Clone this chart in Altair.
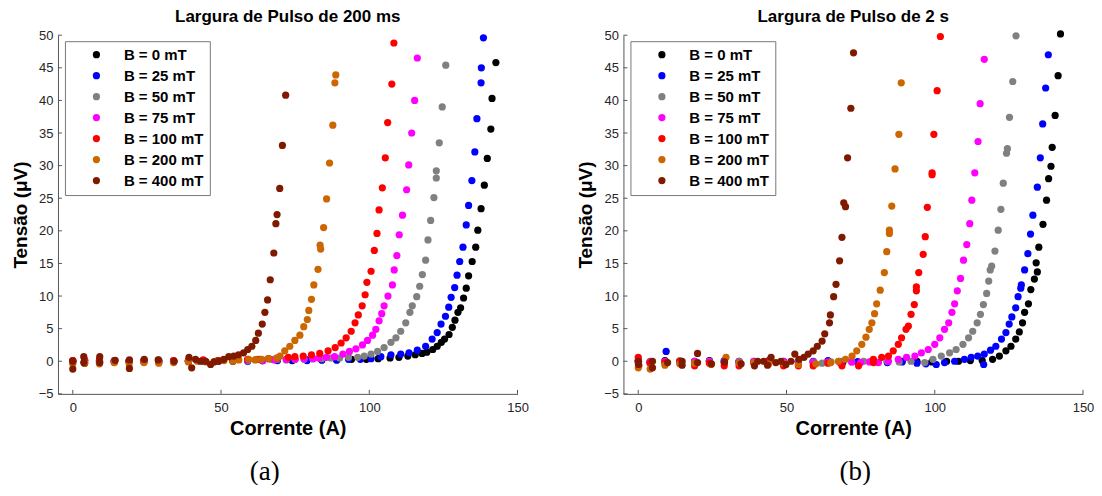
import altair as alt
import pandas as pd

SERIES = ["B = 0 mT", "B = 25 mT", "B = 50 mT", "B = 75 mT", "B = 100 mT", "B = 200 mT", "B = 400 mT"]
COLORS = ["#000000", "#0000FF", "#808080", "#FF00FF", "#FF0000", "#CC6600", "#7F1A00"]
TITLES = ["Largura de Pulso de 200 ms", "Largura de Pulso de 2 s"]
CAPTIONS = ["(a)", "(b)"]
XTICKS = [0, 50, 100, 150]
YTICKS = [-5, 0, 5, 10, 15, 20, 25, 30, 35, 40, 45, 50]

# ---------- Largura de Pulso de 200 ms : (corrente A, tensao uV) ----------
A_B0 = [(0, 0.1), (4, -0.3), (9, 0.2), (14, -0.1), (19, 0.0), (24, 0.1), (29, -0.1), (34, 0.0), (39, 0.1),
        (44, 0.0), (49, 0.1), (54, 0.0), (59, 0.1), (64, 0.1), (69, 0.2), (74, 0.1), (79, 0.2), (84, 0.2),
        (89, 0.2), (94, 0.3), (99, 0.3), (103, 0.4), (107, 0.5), (110, 0.6), (113, 0.8), (115.5, 1.0),
        (117.8, 1.2), (119.4, 1.4), (121.4, 1.8), (122.9, 2.3), (124.3, 2.9), (125.4, 3.4), (126.9, 4.1),
        (128.0, 5.2), (128.9, 6.3), (129.9, 7.5), (130.8, 8.2), (131.8, 9.7), (132.7, 11.2), (133.5, 13.1),
        (134.7, 15.3), (135.9, 17.5), (136.6, 20.1), (137.7, 23.4), (138.8, 27.0), (139.8, 31.1),
        (141.0, 35.6), (141.4, 40.3), (142.7, 45.8)]
A_B25 = [(0, 0.0), (4, 0.2), (9, -0.2), (14, 0.1), (19, 0.0), (24, -0.1), (29, 0.1), (34, 0.0), (39, 0.0),
         (44, 0.1), (49, 0.0), (54, 0.1), (59, 0.0), (64, 0.1), (69, 0.1), (74, 0.2), (79, 0.1), (84, 0.2),
         (89, 0.2), (93, 0.3), (97, 0.3), (100.6, 0.4), (103.9, 0.7), (107.3, 1.0), (110.6, 1.1),
         (113.4, 1.3), (116.2, 1.7), (119.0, 2.3), (121.2, 3.4), (122.9, 4.4), (124.2, 5.7), (125.7, 6.9),
         (126.8, 8.3), (127.6, 9.8), (128.8, 11.3), (129.6, 13.2), (130.5, 15.3), (131.6, 17.5),
         (132.7, 20.9), (133.5, 23.9), (134.6, 27.7), (135.6, 32.1), (136.3, 37.2), (137.7, 42.7),
         (137.8, 45.0), (138.5, 49.6)]
A_B50 = [(0, -0.2), (4, 0.1), (9, 0.0), (14, 0.1), (19, -0.1), (24, 0.0), (29, 0.2), (34, 0.0), (39, 0.1),
         (44, 0.0), (49, 0.1), (54, 0.2), (59, 0.1), (62, 0.3), (64, 0.2), (67, 0.3), (69, 0.3), (72, 0.2),
         (75, 0.3), (78, 0.3), (81, 0.4), (84, 0.4), (87, 0.5), (90, 0.5), (93, 0.6), (96.1, 0.6),
         (98.3, 0.8), (100.6, 1.1), (102.8, 1.5), (105.0, 2.1), (107.3, 2.9), (109.0, 3.6), (110.6, 4.6),
         (112.3, 5.9), (113.7, 7.5), (114.5, 8.5), (116.0, 9.9), (117.0, 11.5), (117.9, 13.3), (119.0, 15.5),
         (119.8, 18.6), (120.7, 21.6), (121.8, 25.1), (122.6, 28.1), (122.6, 29.2), (123.6, 33.5),
         (124.6, 39.0), (125.8, 45.4)]
A_B75 = [(0, 0.0), (4, 0.1), (9, -0.1), (14, 0.0), (19, 0.1), (24, 0.0), (29, -0.1), (34, 0.1), (39, 0.0),
         (44, 0.1), (49, 0.0), (54, 0.1), (59, 0.2), (64, 0.1), (68, 0.2), (72, 0.3), (75, 0.3), (78, 0.4),
         (81, 0.4), (83, 0.5), (85.5, 0.6), (88.3, 0.7), (91.1, 1.1), (93.3, 1.5), (95.5, 1.9), (97.7, 2.5),
         (99.4, 3.2), (101.1, 4.0), (102.2, 4.9), (103.3, 6.2), (104.2, 7.3), (105.0, 8.5), (106.3, 10.0),
         (107.8, 11.7), (108.4, 14.0), (109.3, 16.2), (110.1, 19.4), (111.2, 22.4), (112.6, 26.3),
         (113.3, 30.1), (114.3, 35.0), (115.3, 40.0), (116.2, 46.5)]
A_B100 = [(0, 0.1), (4, 0.0), (9, 0.1), (14, -0.1), (19, 0.0), (24, 0.1), (29, 0.0), (34, 0.1), (39, 0.0),
          (44, 0.2), (49, 0.1), (54, 0.2), (59, 0.3), (63, 0.3), (66, 0.4), (69, 0.5), (72.7, 0.6),
          (74.9, 0.7), (77.7, 0.8), (80.5, 1.0), (83.3, 1.2), (86.1, 1.6), (88.5, 2.1), (90.5, 2.8),
          (92.2, 3.6), (93.9, 4.6), (95.2, 5.9), (96.3, 7.1), (97.6, 8.5), (98.6, 10.2), (99.2, 12.1),
          (100.6, 13.8), (101.7, 17.0), (102.6, 19.6), (103.3, 23.2), (104.4, 26.6), (105.4, 31.2),
          (106.2, 36.6), (107.6, 42.5), (108.3, 48.8)]
A_B200 = [(0, -0.4), (4, -0.3), (9, -0.4), (14, -0.2), (19, -0.4), (24, -0.2), (29, -0.3), (34, -0.2),
          (39, -0.1), (42, 0.0), (45, -0.1), (48, 0.0), (51, 0.1), (54, 0.0), (56, 0.2), (59.3, 0.3),
          (61.5, 0.2), (63.6, 0.3), (66, 0.4), (68.7, 0.5), (69.9, 0.8), (71.5, 1.6), (73.2, 2.3),
          (74.9, 3.2), (76.6, 4.0), (77.9, 5.3), (79.1, 6.4), (79.6, 7.8), (80.5, 9.5), (81.3, 11.7),
          (82.7, 14.1), (83.4, 17.8), (83.6, 17.2), (84.6, 20.5), (85.6, 24.9), (86.6, 30.4), (87.7, 36.2),
          (88.4, 42.7), (88.7, 43.9)]
A_B400 = [(0, 0.0), (0, -1.2), (3.7, 0.7), (3.7, -0.2), (9.1, 0.7), (9.1, -0.2), (14.3, 0.15), (19.1, 0.2),
          (19.1, -1.1), (24.1, 0.3), (28.8, 0.2), (34.2, 0.0), (39.2, 0.6), (40.1, -1.0), (41.4, 0.3),
          (43.1, 0.0), (44.8, 0.0), (46.5, -0.5), (47.6, -0.1), (49.2, 0.0), (50.9, 0.3), (52.6, 0.7),
          (54.3, 0.8), (55.9, 1.0), (57.6, 1.3), (59.0, 1.8), (60.4, 2.3), (61.7, 3.2), (62.6, 4.3),
          (63.9, 5.7), (64.8, 7.5), (65.7, 9.4), (66.6, 12.5), (67.8, 16.6), (68.5, 21.1), (68.9, 22.5),
          (69.8, 26.5), (70.7, 33.1), (71.8, 40.8)]

# ---------- Largura de Pulso de 2 s ----------
B_B0 = [(0, 0.0), (4, -0.2), (9, 0.1), (14, -0.1), (19, 0.0), (24, 0.1), (29, -0.2), (34, 0.0), (39, -0.1),
        (44, 0.0), (49, -0.2), (54, 0.0), (59, -0.1), (64, 0.0), (69, -0.1), (74, -0.1), (79, 0.0),
        (84, -0.1), (89, 0.0), (94, 0.0), (99, -0.1), (104, 0.0), (108, 0.0), (112, 0.1), (116, 0.1),
        (119.5, 0.3), (121.8, 0.8), (124.0, 1.6), (125.7, 2.3), (127.3, 3.4), (128.5, 4.5), (129.6, 5.9),
        (130.3, 7.5), (131.6, 8.8), (132.4, 11.0), (133.6, 12.6), (134.6, 13.7), (134.2, 15.1),
        (135.1, 17.5), (136.5, 21.0), (137.7, 24.7), (138.4, 28.0), (139.2, 29.9), (139.6, 32.8),
        (140.6, 37.7), (141.6, 43.8), (142.4, 50.2)]
B_B25 = [(0, 0.1), (4, -0.1), (9.4, 1.5), (14, 0.0), (19, -0.1), (24, 0.0), (29, 0.1), (34, -0.1), (39, 0.0),
         (44, 0.1), (49, 0.0), (54, -0.1), (59, 0.0), (64, 0.1), (69, 0.0), (74, -0.1), (79, 0.0),
         (84, -0.2), (89, -0.1), (94, -0.3), (97, -0.4), (100.5, -0.5), (103.3, -0.2), (106.7, 0.0),
         (110.0, 0.3), (112.3, 0.6), (114.5, 0.8), (116.5, -0.5), (116.7, 1.1), (118.8, 1.7), (120.6, 2.3),
         (122.5, 3.4), (124.0, 4.4), (125.1, 5.7), (126.0, 6.8), (127.3, 8.2), (128.1, 9.9), (129.0, 11.2),
         (129.2, 11.7), (130.3, 14.0), (131.4, 16.5), (132.3, 19.5), (133.1, 22.4), (134.6, 26.7),
         (135.6, 31.2), (136.4, 36.4), (137.4, 41.9), (138.3, 47.0)]
B_B50 = [(0, -0.3), (4, 0.0), (9, -0.2), (14, 0.1), (19, -0.1), (24, 0.0), (29, -0.2), (34, 0.0), (39, -0.1),
         (44, 0.0), (49, -0.2), (54, 0.0), (59, -0.1), (62, -0.3), (65, -0.1), (68, 0.0), (72, -0.1),
         (76, 0.0), (80, -0.1), (84, 0.0), (88, -0.1), (92, 0.0), (96.6, -0.2), (99.4, 0.3), (102.2, 0.8),
         (105.0, 1.3), (107.2, 1.8), (109.5, 2.6), (111.4, 3.6), (112.8, 4.6), (114.3, 5.9), (115.4, 7.2),
         (116.4, 8.7), (117.5, 10.4), (118.2, 12.3), (118.7, 14.0), (119.2, 14.6), (120.3, 16.9),
         (121.4, 20.1), (122.3, 23.3), (123.1, 27.3), (124.2, 31.9), (124.5, 32.6), (125.2, 37.4),
         (126.3, 42.9), (127.4, 49.9)]
B_B75 = [(0, 0.0), (4, -0.1), (9, 0.0), (14, -0.2), (19, 0.0), (24, -0.1), (29, 0.0), (34, -0.2), (39, 0.0),
         (44, -0.1), (49, 0.0), (54, -0.1), (59, -0.2), (64, -0.1), (68, -0.2), (72, -0.1), (75, -0.2),
         (78, -0.1), (81.0, -0.2), (84.4, 0.0), (87.7, 0.3), (90.5, 0.6), (93.3, 0.8), (95.5, 1.3),
         (97.8, 1.8), (100.0, 2.6), (101.7, 3.6), (103.3, 4.9), (104.7, 5.9), (105.8, 7.5), (106.7, 8.8),
         (107.6, 10.8), (108.7, 12.7), (109.7, 15.5), (110.8, 17.9), (111.8, 21.1), (112.5, 24.7),
         (113.5, 28.9), (114.6, 33.7), (115.3, 39.5), (116.7, 46.3)]
B_B100 = [(0, 0.6), (0.2, -0.7), (4, -0.3), (9, -0.2), (14, 0.0), (19, -0.7), (24, -0.3), (29, -0.7),
          (34, -0.7), (39, -0.3), (44, 0.0), (49, -0.7), (54, -0.7), (59, -0.7), (64, -0.3), (68.7, -0.7),
          (74.3, -0.7), (79.3, -0.2), (79.3, 0.3), (82.1, 0.6), (84.4, 0.8), (86.0, 1.6), (87.7, 2.6),
          (88.8, 3.6), (90.3, 4.9), (91.1, 5.4), (92.0, 7.2), (93.1, 8.7), (93.8, 10.8), (93.8, 11.4),
          (94.6, 13.6), (96.1, 16.4), (96.8, 19.1), (97.5, 23.6), (99.1, 28.6), (99.1, 28.9), (99.7, 34.8),
          (100.8, 41.5), (101.9, 49.8)]
B_B200 = [(0, -1.0), (4, -1.2), (9, -0.6), (14, -0.4), (19, -0.3), (24.6, -0.5), (29.6, 0.6), (34, -0.3),
          (39, -0.2), (44, -0.4), (49, -0.3), (54, -0.5), (59.9, -0.4), (64.9, -0.2), (67.5, 0.0),
          (69.9, 0.3), (72.1, 0.8), (73.7, 1.6), (75.4, 2.6), (76.8, 3.7), (77.9, 4.9), (78.8, 5.9),
          (79.7, 7.3), (80.4, 8.8), (81.6, 10.9), (83.0, 13.6), (83.8, 16.8), (84.7, 19.6), (84.7, 20.1),
          (85.5, 23.8), (86.6, 29.5), (87.9, 34.8), (88.7, 42.7)]
B_B400 = [(0.1, 0.0), (0.1, -0.5), (4.8, 0.0), (4.8, -1.0), (9.9, -0.2), (14.8, 0.0), (14.8, -0.6),
          (20.0, 1.2), (20.0, -0.2), (24.7, -0.4), (29.1, -0.1), (34.7, -0.4), (39.2, -0.7), (40.3, 0.0),
          (42.3, 0.0), (43.6, -0.6), (44.8, 0.6), (46.4, -0.2), (48.1, 0.0), (49.8, -0.5), (51.5, 0.0),
          (52.8, 1.1), (54.2, 0.3), (55.9, 0.6), (57.3, 1.1), (59.0, 1.6), (60.4, 2.3), (62.0, 3.1),
          (62.9, 4.2), (64.5, 5.9), (64.8, 7.1), (65.9, 9.9), (66.7, 11.8), (67.9, 15.4), (68.7, 19.0),
          (69.3, 24.3), (69.9, 23.7), (70.6, 31.2), (71.7, 38.8), (72.6, 47.3)]

PANEL_A = [A_B0, A_B25, A_B50, A_B75, A_B100, A_B200, A_B400]
PANEL_B = [B_B0, B_B25, B_B50, B_B75, B_B100, B_B200, B_B400]

W, H = 460, 359
FONT = "Liberation Sans"
XAXIS = dict(values=XTICKS, title="Corrente (A)", labelPadding=8, titlePadding=4, labelFlush=False,
             titleFontSize=20)
YAXIS = dict(values=YTICKS, title="Tensão (μV)", labelPadding=5, titlePadding=8, labelFlush=False,
             titleFontSize=19)


def panel(series, title, caption, cap_x):
    rows = []
    for k, (name, pts) in enumerate(zip(SERIES, series)):
        for cur, volt in pts:
            rows.append({"I": cur, "V": volt, "B": name, "k": k})
    df = pd.DataFrame(rows)
    xs = alt.Scale(domain=[-5, 150], nice=False, zero=False)
    ys = alt.Scale(domain=[-5, 50], nice=False, zero=False)

    pts = alt.Chart(df).mark_circle(size=52, opacity=1).encode(
        x=alt.X("I:Q", scale=xs, axis=alt.Axis(**XAXIS)),
        y=alt.Y("V:Q", scale=ys, axis=alt.Axis(**YAXIS)),
        color=alt.Color("B:N", scale=alt.Scale(domain=SERIES, range=COLORS), sort=SERIES,
                        legend=alt.Legend(title=None, orient="none", legendX=7, legendY=6,
                                          strokeColor="#777777", fillColor="white", padding=6,
                                          symbolType="circle", symbolSize=52, symbolStrokeWidth=0,
                                          labelFont=FONT, labelFontWeight="bold", labelFontSize=15,
                                          labelColor="black", rowPadding=5, symbolOffset=18,
                                          labelOffset=20)),
        order=alt.Order("k:Q"),
    )

    xt = alt.Chart(pd.DataFrame({"I": XTICKS})).mark_rule(color="#555555").encode(
        x=alt.X("I:Q", scale=xs, axis=alt.Axis(**XAXIS)), y=alt.value(H), y2=alt.value(H - 4))
    yt = alt.Chart(pd.DataFrame({"V": YTICKS})).mark_rule(color="#555555").encode(
        y=alt.Y("V:Q", scale=ys, axis=alt.Axis(**YAXIS)), x=alt.value(0), x2=alt.value(4))
    cap = alt.Chart(pd.DataFrame({"c": [caption]})).mark_text(
        font="Liberation Serif", fontSize=27, color="black").encode(
        text="c:N", x=alt.value(cap_x), y=alt.value(437))

    return alt.layer(pts, xt, yt, cap).properties(
        width=W, height=H,
        title=alt.TitleParams(title, fontSize=17, font=FONT, fontWeight="bold", anchor="middle",
                              offset=0, dy=-3, color="black"))


chart = alt.hconcat(
    panel(PANEL_A, TITLES[0], CAPTIONS[0], 207),
    panel(PANEL_B, TITLES[1], CAPTIONS[1], 232),
    spacing=48,
).resolve_scale(color="independent").configure(
    padding={"left": 3, "top": 0, "right": 0, "bottom": 0},
).configure_view(stroke=None).configure_axis(
    grid=False, ticks=False, domainColor="#555555", domainWidth=1,
    labelFont=FONT, labelFontSize=13, labelColor="#262626",
    titleFont=FONT, titleFontWeight="bold", titleColor="black",
)

chart.save("out.html", embed_options={"renderer": "svg", "actions": False})
